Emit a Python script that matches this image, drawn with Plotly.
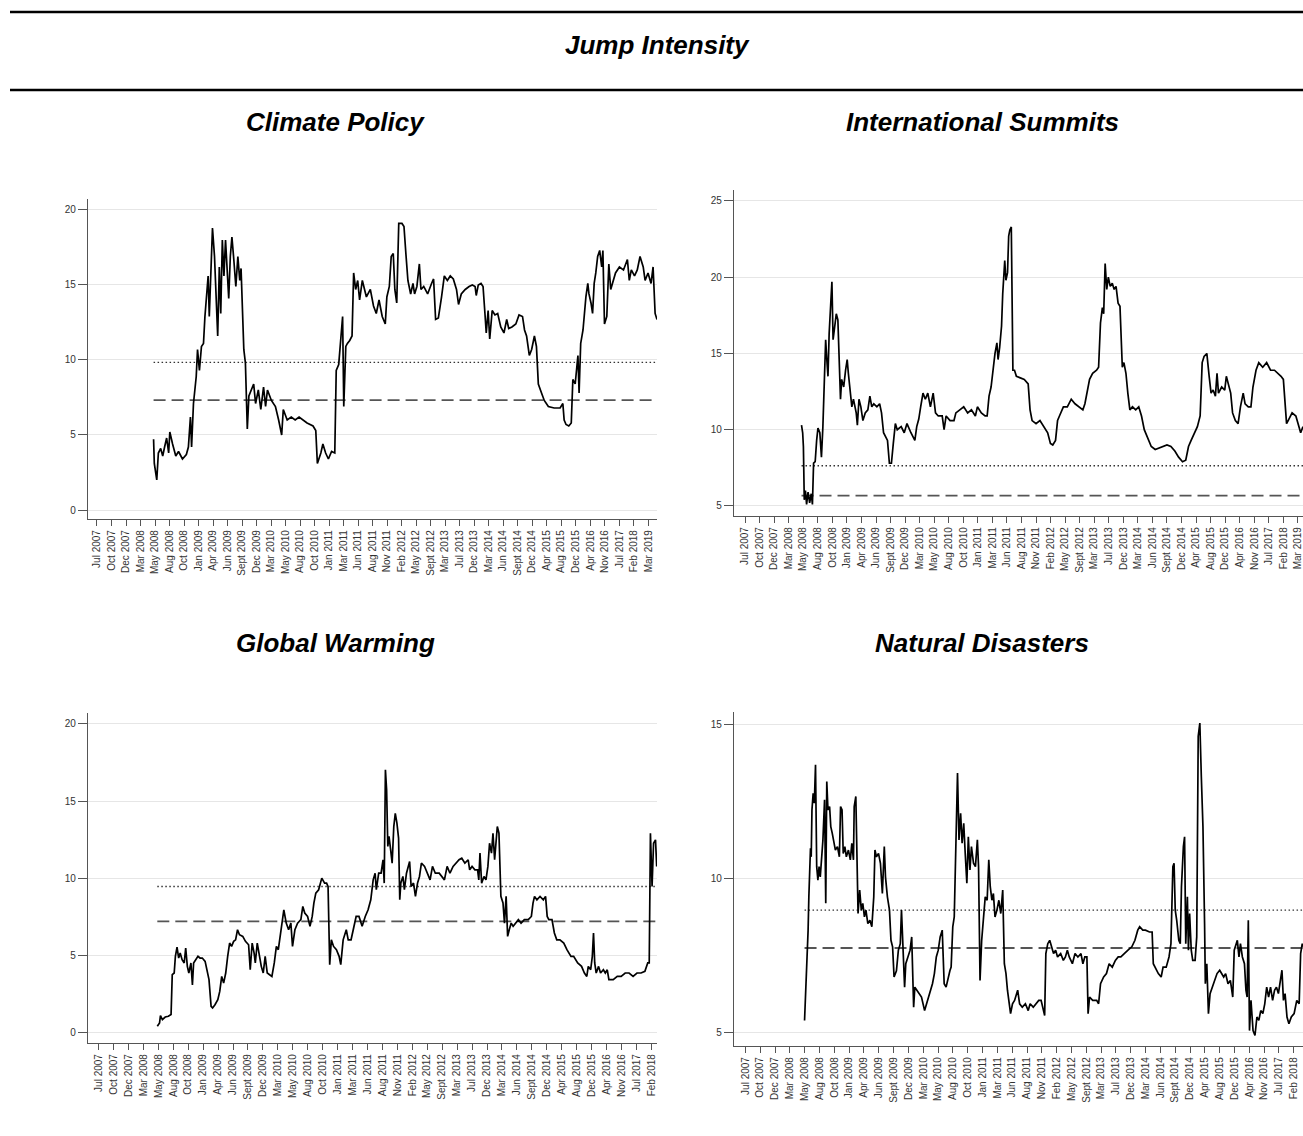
import plotly.graph_objects as go

W, H = 1303, 1136

# ---------------- data ----------------
# x = observation index (10 observations between consecutive tick labels)
tick_labels = ["Jul 2007", "Oct 2007", "Dec 2007", "Mar 2008", "May 2008", "Aug 2008", "Oct 2008",
               "Jan 2009", "Apr 2009", "Jun 2009", "Sept 2009", "Dec 2009", "Mar 2010", "May 2010",
               "Aug 2010", "Oct 2010", "Jan 2011", "Mar 2011", "Jun 2011", "Aug 2011", "Nov 2011",
               "Feb 2012", "May 2012", "Sept 2012", "Mar 2013", "Jul 2013", "Dec 2013", "Mar 2014",
               "Jun 2014", "Sept 2014", "Dec 2014", "Apr 2015", "Aug 2015", "Dec 2015", "Apr 2016",
               "Nov 2016", "Jul 2017", "Feb 2018", "Mar 2019"]
tick_obs = [10 * i for i in range(len(tick_labels))]

cp_obs = [39.0, 39.5, 41.2, 42.3, 43.9, 45.3, 46.6, 48.0, 49.4, 50.2, 52.1, 54.3, 56.2, 58.9, 61.6, 63.0,
          64.4, 65.2, 66.5, 68.4, 69.3, 70.6, 72.0, 73.4, 74.4, 75.8, 76.6, 77.4, 78.8, 79.6, 81.0, 82.1,
          83.2, 84.3, 85.3, 86.4, 87.5, 88.6, 89.7, 90.8, 91.9, 93.0, 94.3, 95.7, 97.1, 98.4, 99.3, 100.3,
          101.2, 102.3, 103.1, 103.6, 104.7, 106.6, 108.0, 109.3, 111.2, 112.9, 114.8, 116.2, 117.5, 120.2,
          123.0, 125.2, 127.3, 128.4, 131.1, 133.9, 136.6, 139.3, 142.1, 144.8, 148.9, 150.8, 151.9, 154.3,
          155.7, 157.6, 159.5, 161.7, 163.9, 164.9, 166.6, 167.9, 169.3, 170.1, 171.5, 172.6, 174.2, 175.8,
          176.9, 178.3, 179.7, 181.0, 182.9, 185.7, 188.4, 190.6, 192.5, 194.4, 196.6, 198.7, 199.8, 201.5,
          202.8, 204.2, 205.3, 206.6, 208.0, 210.2, 211.6, 212.9, 214.3, 216.2, 217.8, 218.9, 220.5, 222.2,
          223.3, 225.2, 227.9, 230.6, 232.0, 233.4, 235.3, 237.5, 239.4, 241.5, 243.5, 245.6, 247.8, 249.2,
          251.1, 253.8, 256.5, 258.7, 260.6, 261.4, 262.8, 264.7, 266.1, 267.4, 268.3, 269.6, 270.7, 272.4,
          274.3, 276.2, 278.3, 280.5, 282.4, 283.8, 286.0, 288.7, 290.9, 293.3, 294.7, 296.1, 298.0, 299.6,
          301.5, 302.9, 304.2, 306.4, 308.3, 311.1, 315.1, 319.2, 321.1, 322.0, 323.3, 325.2, 326.9, 328.0,
          329.6, 331.5, 332.3, 333.4, 335.0, 337.0, 338.3, 339.1, 340.5, 341.6, 342.7, 343.8, 345.1, 346.5,
          347.9, 348.7, 349.8, 351.4, 352.8, 354.1, 356.0, 357.4, 360.1, 362.9, 365.6, 366.9, 368.3, 370.5,
          372.4, 374.3, 376.5, 377.8, 379.8, 381.9, 383.3, 384.7, 386.0]
cp_val = [4.71, 3.1, 2.0, 3.8, 4.1, 3.6, 4.2, 4.8, 3.8, 5.2, 4.4, 3.6, 3.9, 3.4, 3.7, 4.2,
          6.2, 4.2, 7.1, 8.9, 10.7, 9.3, 10.9, 11.1, 12.9, 14.7, 15.6, 12.9, 16.4, 18.8, 16.9, 14.0,
          11.6, 16.2, 13.1, 18.0, 15.6, 18.0, 15.8, 14.1, 16.9, 18.2, 16.7, 14.9, 16.9, 15.3, 16.1, 13.8,
          10.7, 9.8, 6.2, 5.4, 7.6, 8.0, 8.4, 7.1, 8.0, 6.7, 8.2, 6.9, 8.0, 7.3,
          6.9, 6.0, 5.0, 6.7, 6.0, 6.2, 6.0, 6.2, 6.0, 5.8, 5.6, 5.3, 3.1, 3.8,
          4.4, 3.8, 3.4, 3.9, 3.8, 9.3, 9.7, 11.6, 12.9, 6.9, 10.9, 11.1, 11.3, 11.6,
          15.8, 14.7, 15.3, 14.0, 15.3, 14.2, 14.7, 13.6, 13.1, 14.0, 12.9, 12.4, 14.2, 14.9,
          16.9, 17.1, 14.7, 13.8, 19.1, 19.1, 18.9, 17.1, 15.3, 14.4, 15.1, 14.4, 14.9, 16.4,
          14.7, 14.9, 14.4, 15.1, 15.4, 12.7, 12.8, 14.2, 15.6, 15.3, 15.6, 15.4, 14.7, 13.7,
          14.4, 14.7, 14.9, 15.0, 14.9, 14.3, 15.0, 15.1, 14.9, 13.1, 11.8, 13.3, 11.4, 13.3,
          13.0, 13.1, 12.2, 11.8, 12.7, 12.1, 12.2, 12.4, 13.0, 12.9, 12.0, 11.6, 10.3, 10.7,
          11.6, 10.9, 8.4, 7.8, 7.3, 6.9, 6.8, 6.8, 7.1, 6.0, 5.7, 5.6, 5.8, 8.7,
          8.4, 10.3, 7.8, 11.1, 12.0, 14.2, 15.1, 14.4, 13.8, 13.1, 15.1, 15.8, 16.9, 17.3,
          16.2, 17.3, 12.4, 12.9, 16.4, 14.7, 15.3, 15.8, 16.2, 16.0, 16.7, 15.3, 16.0, 15.6,
          16.0, 16.9, 16.2, 15.3, 15.8, 15.1, 16.2, 13.1, 12.7]
cp_dotted, cp_dashed = 9.84, 7.33

is_obs = [38.8, 39.6, 40.1, 40.7, 41.5, 42.3, 43.3, 44.4, 45.5, 46.3, 47.1, 48.2, 49.2, 50.1, 51.4, 52.5,
          53.5, 54.6, 55.4, 56.2, 57.0, 57.8, 58.9, 59.7, 60.5, 61.6, 62.7, 63.8, 64.6, 65.6, 66.4, 67.8,
          69.1, 70.2, 71.0, 72.4, 73.4, 74.5, 76.4, 77.2, 78.3, 79.6, 81.0, 82.6, 84.4, 85.8, 87.1, 88.5,
          90.6, 92.5, 93.8, 95.2, 96.5, 97.9, 99.2, 100.6, 101.9, 103.3, 104.6, 107.3, 109.4, 111.3, 114.0,
          116.7, 118.0, 119.4, 120.7, 122.3, 123.9, 125.6, 127.4, 129.3, 130.9, 132.8, 135.5, 136.8, 138.2,
          140.9, 143.6, 144.9, 147.6, 150.3, 153.0, 155.6, 158.3, 159.7, 162.4, 165.0, 166.4, 167.7, 169.1,
          170.4, 171.8, 173.1, 173.9, 175.0, 176.3, 177.1, 178.5, 179.3, 180.4, 181.2, 182.0, 183.0, 184.1,
          185.2, 186.5, 189.2, 191.9, 194.6, 195.9, 197.3, 200.0, 202.7, 205.3, 208.0, 209.9, 211.5, 213.4,
          214.8, 216.1, 218.8, 221.5, 224.2, 226.8, 229.5, 232.2, 233.6, 234.9, 236.8, 238.9, 241.6, 243.0,
          244.3, 245.6, 246.5, 247.5, 248.6, 249.7, 251.0, 252.4, 253.7, 255.0, 256.4, 257.7, 258.5, 259.3,
          260.4, 261.8, 263.1, 264.5, 266.3, 268.5, 270.6, 272.5, 274.4, 276.5, 279.2, 281.9, 284.6, 287.3,
          290.0, 292.7, 295.4, 298.0, 300.7, 302.9, 304.8, 306.6, 308.8, 310.9, 312.8, 314.2, 315.5, 317.4,
          319.0, 320.3, 321.7, 323.3, 324.4, 325.4, 327.6, 329.7, 330.8, 332.4, 333.8, 335.1, 337.0, 338.9,
          340.5, 342.4, 343.7, 345.9, 347.7, 349.1, 351.2, 353.1, 355.8, 358.5, 361.2, 363.9, 366.5, 368.4,
          370.0, 371.1, 372.2, 373.3, 376.0, 378.6, 380.8, 381.9, 383.5]
is_val = [10.3, 9.8, 8.9, 5.4, 6.0, 5.1, 5.9, 5.2, 5.8, 5.1, 7.8, 7.9, 9.3, 10.1, 9.8, 8.2,
          10.2, 13.3, 15.9, 14.6, 13.5, 16.3, 18.3, 19.7, 15.9, 16.8, 17.6, 17.2, 14.1, 12.0, 13.3, 12.8,
          13.9, 14.6, 13.7, 12.4, 11.5, 12.0, 11.1, 10.3, 12.0, 11.5, 10.6, 11.1, 11.3, 12.2, 11.5, 11.7,
          11.5, 11.7, 11.1, 9.8, 9.5, 9.3, 7.8, 7.8, 9.1, 10.4, 10.0, 10.2, 9.8, 10.4, 9.8,
          9.3, 10.2, 10.7, 11.5, 12.4, 12.0, 12.4, 11.5, 12.4, 11.1, 10.9, 10.9, 10.0, 10.9,
          10.6, 10.6, 11.1, 11.3, 11.5, 11.1, 11.3, 10.9, 11.5, 11.1, 10.9, 10.9, 12.2, 12.8,
          14.1, 15.0, 15.7, 14.6, 15.4, 16.8, 18.9, 21.1, 19.8, 20.3, 22.7, 23.1, 23.3, 13.9,
          13.9, 13.5, 13.4, 13.3, 13.0, 11.3, 10.6, 10.4, 10.6, 10.2, 9.8, 9.1, 9.0, 9.3,
          10.6, 10.9, 11.5, 11.5, 12.0, 11.7, 11.5, 11.3, 11.7, 12.4, 13.3, 13.7, 13.9, 14.1,
          17.0, 18.0, 17.6, 20.9, 19.2, 20.0, 19.4, 19.6, 19.2, 19.4, 18.3, 18.1, 15.7, 14.1,
          14.4, 13.7, 12.4, 11.3, 11.5, 11.3, 11.5, 10.9, 10.0, 9.5, 8.9, 8.7, 8.8, 8.9,
          9.0, 8.9, 8.6, 8.2, 7.9, 8.0, 8.9, 9.3, 9.8, 10.2, 10.9, 14.4, 14.8, 15.0,
          13.5, 12.4, 12.6, 12.2, 13.7, 12.4, 12.8, 12.6, 13.5, 12.8, 12.4, 11.1, 10.6, 10.4,
          11.5, 12.4, 11.7, 11.5, 11.5, 12.8, 13.9, 14.4, 14.1, 14.4, 13.9, 13.9, 13.7, 13.5,
          13.3, 11.5, 10.4, 10.6, 11.1, 10.9, 10.2, 9.8, 10.2]
is_dotted, is_dashed = 7.64, 5.68

gw_obs = [39.3, 40.8, 41.4, 42.7, 44.6, 46.7, 48.5, 49.3, 50.6, 51.4, 52.5, 53.6, 54.6, 55.9, 57.3, 58.3,
          59.4, 60.4, 61.8, 62.8, 63.6, 65.2, 66.5, 67.9, 69.4, 71.3, 72.6, 73.9, 75.3, 76.3, 77.9, 79.8,
          81.1, 82.4, 83.7, 85.1, 86.4, 87.7, 89.0, 90.4, 91.7, 93.0, 94.3, 96.5, 98.3, 100.4, 101.5, 102.8,
          104.1, 104.9, 106.2, 107.6, 108.9, 110.2, 111.5, 112.9, 114.7, 116.0, 117.6, 119.0, 120.3, 122.1,
          124.0, 125.6, 127.2, 128.7, 129.8, 131.4, 133.2, 135.4, 136.7, 138.0, 139.9, 141.5, 143.0, 144.1,
          145.4, 147.3, 149.4, 151.3, 152.6, 153.6, 154.7, 155.8, 157.3, 159.2, 161.0, 162.1, 163.7, 165.8,
          167.1, 169.0, 171.1, 172.4, 174.3, 176.4, 178.5, 180.4, 182.2, 183.8, 185.1, 185.9, 187.5, 189.1,
          190.4, 191.2, 192.0, 192.8, 193.6, 194.4, 195.5, 196.5, 197.6, 198.6, 199.7, 200.8, 201.6, 202.3,
          203.7, 204.7, 206.1, 207.1, 208.2, 209.2, 210.8, 212.1, 213.5, 214.8, 216.1, 218.2, 220.1, 221.9,
          223.5, 225.4, 228.0, 229.9, 231.5, 233.3, 235.2, 237.3, 239.4, 241.3, 243.1, 245.2, 247.4, 248.4,
          250.0, 251.9, 253.7, 254.5, 255.3, 256.4, 258.0, 259.3, 260.6, 261.7, 263.0, 264.0, 265.1, 265.9,
          266.9, 268.0, 268.8, 269.3, 270.7, 271.7, 272.8, 273.8, 274.9, 276.2, 277.5, 279.1, 281.0, 282.8,
          285.0, 287.6, 289.7, 290.8, 291.8, 293.4, 295.5, 297.7, 299.2, 300.3, 301.4, 303.5, 305.1, 306.7,
          308.8, 311.4, 313.5, 316.2, 318.0, 320.7, 323.3, 325.2, 326.8, 327.8, 329.4, 330.5, 331.3, 332.1,
          333.1, 334.7, 336.0, 337.9, 339.2, 340.5, 341.6, 344.5, 347.2, 349.8, 352.5, 355.1, 357.8, 360.4,
          363.1, 365.7, 367.6, 368.6, 369.4, 370.5, 371.5, 372.8, 373.6]
gw_val = [0.43, 0.65, 1.12, 0.86, 1.03, 1.08, 1.19, 3.77, 3.88, 4.96, 5.56, 4.85, 5.17, 4.74, 4.53, 5.5,
          4.31, 3.88, 4.53, 3.1, 4.53, 4.74, 4.96, 4.85, 4.85, 4.63, 4.09, 3.45, 1.72, 1.62, 1.83, 2.16,
          2.69, 3.66, 3.23, 3.88, 4.96, 5.82, 5.6, 5.93, 6.03, 6.68, 6.36, 6.25, 5.93, 5.71, 4.09, 5.82,
          5.17, 4.53, 5.82, 4.96, 4.31, 3.88, 4.96, 3.88, 3.77, 3.66, 4.53, 5.6, 5.39, 6.68,
          7.97, 7.11, 6.68, 7.11, 5.6, 6.68, 7.11, 7.33, 8.19, 7.76, 7.54, 6.9, 7.54, 8.41,
          9.05, 9.27, 10.02, 9.7, 9.7, 9.48, 4.42, 6.03, 5.6, 5.39, 4.96, 4.42, 6.03, 6.68,
          6.03, 6.03, 6.9, 7.54, 7.54, 6.9, 7.54, 7.97, 8.62, 9.91, 10.34, 9.27, 10.34, 10.34,
          11.21, 9.7, 17.03, 15.73, 12.07, 12.72, 11.85, 10.99, 13.36, 14.22, 13.58, 12.61, 8.62, 9.7,
          10.13, 9.27, 10.34, 10.78, 11.1, 9.48, 9.7, 8.84, 9.7, 10.13, 10.99, 10.78, 10.34, 9.91,
          10.78, 10.34, 10.34, 10.13, 9.91, 10.78, 10.34, 10.78, 10.99, 11.21, 11.31, 10.99, 11.21, 10.56,
          10.78, 10.56, 10.56, 9.91, 11.64, 9.7, 10.13, 9.91, 10.78, 12.28, 11.64, 12.93, 11.21, 12.28,
          13.36, 12.93, 10.99, 8.84, 8.41, 7.11, 8.84, 6.25, 6.68, 7.11, 6.9, 7.11, 7.33, 7.11,
          7.33, 7.33, 7.54, 8.41, 8.84, 8.62, 8.84, 8.62, 8.84, 7.54, 7.33, 7.33, 6.47, 6.03,
          6.03, 5.82, 5.39, 4.96, 4.96, 4.53, 4.31, 3.88, 3.66, 4.31, 4.09, 4.96, 6.47, 4.53,
          3.88, 4.31, 3.88, 4.09, 3.88, 4.09, 3.45, 3.45, 3.66, 3.66, 3.88, 3.88, 3.66, 3.88,
          3.88, 3.99, 4.53, 4.53, 12.93, 9.48, 12.28, 12.5, 10.78]
gw_dotted, gw_dashed = 9.48, 7.22

nd_obs = [39.9, 40.7, 41.2, 41.8, 42.3, 42.8, 43.3, 43.9, 44.4, 44.9, 45.7, 46.5, 47.3, 48.1, 48.9, 49.7,
          50.5, 51.5, 52.3, 53.4, 54.2, 54.9, 55.7, 56.8, 57.6, 58.6, 59.7, 60.7, 62.1, 63.4, 64.2, 65.2,
          66.0, 67.1, 68.1, 69.5, 70.8, 71.8, 72.9, 73.4, 74.5, 75.3, 76.0, 77.1, 78.2, 79.2, 80.3, 81.3,
          82.6, 84.0, 85.3, 86.6, 87.4, 88.4, 89.8, 91.1, 92.4, 93.7, 94.5, 95.8, 97.2, 98.2, 99.3, 100.3,
          101.9, 103.2, 104.5, 105.3, 106.4, 107.4, 108.2, 109.8, 111.1, 112.2, 113.5, 114.3, 116.9, 118.8,
          120.9, 122.2, 124.1, 126.2, 127.5, 128.8, 130.1, 131.4, 132.8, 134.1, 135.4, 136.7, 138.0, 138.8,
          139.9, 140.9, 142.0, 143.1, 144.1, 145.2, 146.2, 147.3, 148.3, 149.4, 150.4, 151.5, 152.5, 153.9,
          155.2, 156.5, 157.3, 158.3, 159.4, 160.5, 161.8, 163.1, 164.2, 165.2, 166.3, 167.3, 168.4, 169.7,
          171.0, 172.3, 173.6, 174.7, 175.8, 176.8, 177.9, 178.9, 180.2, 181.6, 183.7, 185.0, 186.8, 188.9,
          190.8, 192.1, 194.2, 196.1, 197.9, 199.5, 200.8, 201.9, 202.7, 204.0, 205.3, 206.6, 207.9, 209.3,
          210.6, 212.7, 214.5, 215.9, 217.2, 218.5, 220.6, 222.4, 224.3, 226.4, 227.7, 229.0, 230.4, 231.2,
          232.2, 234.3, 237.0, 238.3, 239.6, 241.7, 243.6, 245.4, 247.5, 249.6, 251.5, 253.3, 255.4, 258.1,
          260.7, 262.8, 264.7, 266.0, 268.1, 269.9, 272.6, 274.4, 275.2, 276.5, 278.6, 280.5, 281.8, 283.9,
          285.8, 287.1, 288.4, 289.2, 290.0, 291.0, 292.4, 293.4, 294.2, 295.5, 296.3, 297.1, 298.2, 298.9,
          299.7, 300.8, 301.8, 303.4, 304.5, 305.5, 306.6, 307.6, 308.7, 309.8, 310.3, 311.3, 312.4, 313.5,
          315.0, 316.6, 318.2, 320.0, 321.4, 322.7, 324.0, 325.6, 327.2, 328.8, 329.8, 330.9, 331.9, 333.0,
          334.0, 335.3, 336.7, 337.7, 338.5, 339.3, 340.1, 341.1, 342.5, 343.8, 345.1, 346.4, 347.7, 349.1,
          350.4, 351.7, 353.0, 354.3, 355.7, 357.0, 358.3, 359.6, 360.9, 362.0, 363.0, 364.1, 365.4, 366.7,
          368.3, 370.2, 372.0, 373.6, 374.6, 375.7, 376.2]
nd_val = [5.38, 6.36, 6.46, 7.22, 8.31, 9.39, 10.26, 10.97, 10.69, 12.21, 12.75, 12.43, 13.68, 10.37, 9.93, 10.37,
          10.04, 10.69, 11.24, 12.54, 9.18, 13.13, 12.21, 12.32, 11.67, 11.45, 11.13, 10.91, 11.02, 10.69, 12.32, 12.21,
          10.8, 11.02, 10.69, 10.91, 10.59, 11.13, 10.59, 12.32, 12.65, 10.48, 8.85, 9.61, 8.96, 9.18, 8.74, 8.96,
          8.52, 8.63, 8.42, 9.39, 10.91, 10.69, 10.8, 10.48, 9.5, 11.02, 10.04, 9.39, 8.96, 7.98, 7.77, 6.79,
          6.99, 7.66, 7.87, 8.96, 7.33, 6.46, 7.22, 7.44, 7.66, 8.09, 5.81, 6.46, 6.25, 6.14,
          5.7, 5.92, 6.25, 6.57, 6.9, 7.44, 7.66, 8.09, 8.31, 6.57, 6.46, 6.79, 7.0, 7.11,
          8.42, 8.74, 11.34, 13.41, 11.24, 12.1, 11.13, 11.78, 10.8, 9.83, 11.34, 10.26, 11.02, 10.48,
          10.37, 11.24, 10.37, 6.68, 7.98, 8.74, 9.39, 9.28, 10.59, 9.72, 9.28, 9.5, 8.74, 8.96,
          9.28, 8.85, 9.61, 7.22, 6.9, 6.36, 6.03, 5.6, 5.92, 6.03, 6.36, 5.92, 5.81, 5.92,
          5.7, 5.92, 5.81, 5.92, 6.03, 6.03, 5.7, 5.54, 7.55, 7.87, 7.98, 7.77, 7.55, 7.66,
          7.44, 7.55, 7.33, 7.44, 7.66, 7.44, 7.22, 7.55, 7.44, 7.55, 7.22, 7.44, 7.44, 5.6,
          6.14, 6.03, 6.03, 5.92, 6.57, 6.79, 6.9, 7.22, 7.11, 7.33, 7.44, 7.44, 7.55, 7.66,
          7.77, 7.98, 8.31, 8.42, 8.31, 8.31, 8.25, 8.25, 7.22, 7.11, 6.9, 6.79, 7.11, 7.11,
          7.44, 7.87, 10.37, 10.48, 8.96, 8.63, 7.98, 7.87, 9.72, 11.02, 11.34, 7.87, 9.39, 7.66,
          8.85, 7.66, 7.33, 7.33, 8.09, 14.6, 15.03, 13.3, 11.67, 8.52, 6.57, 7.22, 5.6, 6.25,
          6.46, 6.68, 6.9, 7.01, 6.9, 6.79, 6.9, 6.57, 6.68, 6.14, 7.66, 7.87, 7.98, 7.44,
          7.87, 7.44, 7.22, 6.36, 6.14, 8.63, 5.05, 6.03, 5.05, 4.89, 5.49, 5.38, 5.7, 5.6,
          5.92, 6.46, 6.14, 6.46, 6.03, 6.36, 6.46, 6.25, 6.68, 7.01, 6.03, 6.25, 5.49, 5.27,
          5.49, 5.6, 6.03, 5.92, 7.55, 7.87, 7.77]
nd_dotted, nd_dashed = 8.96, 7.73

# ---------------- layout helpers ----------------
def xdom(a, b):
    return [a / W, b / W]

def ydom(top, bottom):
    return [1 - bottom / H, 1 - top / H]

panels = [
    dict(name="Climate Policy", obs=cp_obs, val=cp_val, dot=cp_dotted, dash=cp_dashed,
         xd=xdom(88, 657), yd=ydom(199, 519), xr=[-6.2, 386.0], yr=[-0.6, 20.73],
         yt=[0, 5, 10, 15, 20], tx=335, ty=122),
    dict(name="International Summits", obs=is_obs, val=is_val, dot=is_dotted, dash=is_dashed,
         xd=xdom(734, 1303), yd=ydom(190, 516), xr=[-7.6, 383.5], yr=[4.34, 25.72],
         yt=[5, 10, 15, 20, 25], tx=982, ty=122),
    dict(name="Global Warming", obs=gw_obs, val=gw_val, dot=gw_dotted, dash=gw_dashed,
         xd=xdom(88, 657), yd=ydom(713, 1043), xr=[-7.1, 373.8], yr=[-0.65, 20.71],
         yt=[0, 5, 10, 15, 20], tx=335, ty=643),
    dict(name="Natural Disasters", obs=nd_obs, val=nd_val, dot=nd_dotted, dash=nd_dashed,
         xd=xdom(734, 1303), yd=ydom(712, 1046), xr=[-7.7, 376.2], yr=[4.55, 15.39],
         yt=[5, 10, 15], tx=982, ty=643),
]

FONT = "Liberation Sans, Arial, sans-serif"
fig = go.Figure()
layout = dict(width=W, height=H, autosize=False, margin=dict(l=0, r=0, t=0, b=0),
              paper_bgcolor="white", plot_bgcolor="white", showlegend=False,
              font=dict(family=FONT, color="#333"))
annotations = []
xtick_font = dict(family=FONT, size=10, color="#333")
ytick_font = dict(family=FONT, size=10, color="#333")

for i, p in enumerate(panels, start=1):
    xa = "x" if i == 1 else f"x{i}"
    ya = "y" if i == 1 else f"y{i}"
    x0, x1 = p["obs"][0], p["obs"][-1]
    fig.add_trace(go.Scatter(x=[x0, x1], y=[p["dot"], p["dot"]], mode="lines", xaxis=xa, yaxis=ya,
                             line=dict(color="#333", width=1.4, dash="1.5px,2.5px"), hoverinfo="skip"))
    fig.add_trace(go.Scatter(x=[x0, x1], y=[p["dash"], p["dash"]], mode="lines", xaxis=xa, yaxis=ya,
                             line=dict(color="#555", width=1.8, dash="12px,6px"), hoverinfo="skip"))
    fig.add_trace(go.Scatter(x=p["obs"], y=p["val"], mode="lines", xaxis=xa, yaxis=ya,
                             line=dict(color="black", width=1.7), name=p["name"]))
    layout["xaxis" if i == 1 else f"xaxis{i}"] = dict(
        domain=p["xd"], range=p["xr"], anchor=ya, tickmode="array", tickvals=tick_obs,
        ticktext=tick_labels, tickangle=-90, ticks="outside", ticklen=6, tickcolor="#555",
        showline=True, linecolor="#555", linewidth=1.2, showgrid=False, zeroline=False,
        tickfont=xtick_font, ticklabeloverflow="allow", fixedrange=True)
    layout["yaxis" if i == 1 else f"yaxis{i}"] = dict(
        domain=p["yd"], range=p["yr"], anchor=xa, tickmode="array", tickvals=p["yt"],
        ticks="outside", ticklen=9, tickcolor="#555", showline=True, linecolor="#555", linewidth=1.2,
        showgrid=True, gridcolor="#e6e6e6", gridwidth=1.2, zeroline=False,
        tickfont=ytick_font, fixedrange=True)
    annotations.append(dict(text=f"<b><i>{p['name']}</i></b>", x=p["tx"] / W, y=1 - p["ty"] / H,
                            xref="paper", yref="paper", showarrow=False, xanchor="center", yanchor="middle",
                            font=dict(family=FONT, size=26, color="black")))

annotations.append(dict(text="<b><i>Jump Intensity</i></b>", x=658 / W, y=1 - 45 / H, xref="paper", yref="paper",
                        showarrow=False, xanchor="center", yanchor="middle",
                        font=dict(family=FONT, size=26, color="black")))
layout["annotations"] = annotations
layout["shapes"] = [
    dict(type="line", xref="paper", yref="paper", x0=10 / W, x1=1.0, y0=1 - 12 / H, y1=1 - 12 / H,
         line=dict(color="black", width=2.5)),
    dict(type="line", xref="paper", yref="paper", x0=10 / W, x1=1.0, y0=1 - 90 / H, y1=1 - 90 / H,
         line=dict(color="black", width=2.5)),
]
fig.update_layout(**layout)

fig.write_html("out.html", config={"displayModeBar": False},
               post_script="document.body.style.margin='0';document.body.style.overflow='hidden';")
